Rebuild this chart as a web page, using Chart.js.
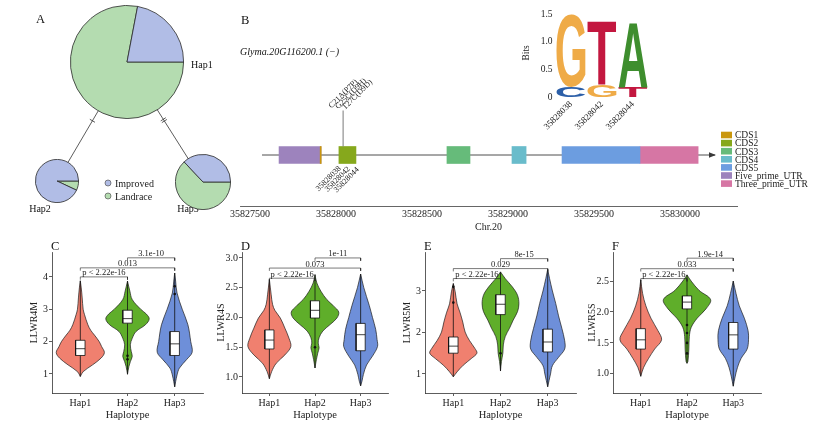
<!DOCTYPE html>
<html>
<head>
<meta charset="utf-8">
<title>Glyma.20G116200 haplotypes</title>
<script src="https://cdn.jsdelivr.net/npm/chart.js@4.4.1/dist/chart.umd.min.js"></script>
<style>
  html, body { margin: 0; padding: 0; background: #fff; }
  body { width: 835px; height: 426px; position: relative; overflow: hidden; }
  canvas { position: absolute; }
</style>
</head>
<body>
<canvas id="panelA" width="235" height="225" style="left:0px;top:0px"></canvas>
<canvas id="gene" width="635" height="235" style="left:200px;top:0px"></canvas>
<canvas id="logo" width="160" height="140" style="left:505px;top:0px"></canvas>
<canvas id="violinC" width="182" height="190" style="left:25px;top:235px"></canvas>
<canvas id="violinD" width="180" height="190" style="left:212px;top:235px"></canvas>
<canvas id="violinE" width="182" height="190" style="left:398px;top:235px"></canvas>
<canvas id="violinF" width="182" height="190" style="left:583px;top:235px"></canvas>
<script>
// ---------- data ----------
// A: haplotype network, share of improved / landrace accessions
const pieGroups = ['Improved', 'Landrace'];
const hap1Share = [22, 78];
const hap2Share = [93, 7];
const hap3Share = [37, 63];

// B: gene model
const featureNames = ['CDS1', 'CDS2', 'CDS3', 'CDS4', 'CDS5', 'Five_prime_UTR', 'Three_prime_UTR'];
const featureStart = [35827908, 35828017, 35828645, 35829023, 35829314, 35827669, 35829767];
const featureEnd   = [35827914, 35828116, 35828779, 35829105, 35829767, 35827913, 35830105];
const geneSpan = [35827570, 35830203];
const chrTicks = [35827500, 35828000, 35828500, 35829000, 35829500, 35830000];
const snpPos = [35828038, 35828042, 35828044];
const snpChanges = ['C21A(P7P)', 'G25C(D9H)', 'T27C(D9D)'];

// B: sequence logo
const logoPositions = ['35828038', '35828042', '35828044'];
const logoLowerLetters = ['C', 'G', 'T'];
const logoLowerBits = [0.18, 0.21, 0.19];
const logoUpperLetters = ['G', 'T', 'A'];
const logoUpperBits = [1.32, 1.15, 1.17];

// C-F: violins, profile rows are [value, half width]
const haplotypes = ['Hap1', 'Hap2', 'Hap3'];
const bracketPairs = [[1, 2], [1, 3], [2, 3]];

const llwr4mViolin = [
  [[0.92,0],[1.07,0.06],[1.28,0.26],[1.49,0.44],[1.66,0.51],[1.85,0.45],[2.0,0.4],[2.2,0.3],[2.35,0.22],[2.52,0.16],[2.83,0.09],[3.0,0.06],[3.35,0.04],[3.66,0.02],[3.88,0]],
  [[0.99,0],[1.23,0.03],[1.38,0.06],[1.54,0.1],[1.69,0.08],[1.9,0.06],[2.1,0.1],[2.31,0.18],[2.52,0.38],[2.7,0.46],[2.85,0.4],[3.0,0.28],[3.3,0.1],[3.56,0.05],[3.87,0]],
  [[0.6,0],[0.76,0.02],[0.97,0.05],[1.18,0.1],[1.44,0.25],[1.67,0.37],[2.0,0.34],[2.52,0.28],[3.0,0.16],[3.5,0.05],[3.87,0.02],[4.12,0]]
];
const llwr4mBox = [[0.92,1.57,1.78,2.04,3.88],[0.99,2.57,2.71,2.97,3.87],[0.6,1.57,1.93,2.31,4.12]];
const llwr4mOutliers = [[2,1.56],[2,1.45],[3,3.71],[3,3.47]];
const llwr4mP = ['p < 2.22e-16', '0.013', '3.1e-10'];
const llwr4mPHeight = [4.0, 4.28, 4.59];
const llwr4mTicks = [1, 2, 3, 4];

const llwr4sViolin = [
  [[0.97,0],[1.09,0.05],[1.23,0.15],[1.37,0.34],[1.51,0.47],[1.65,0.43],[1.82,0.34],[1.99,0.24],[2.12,0.12],[2.22,0.07],[2.38,0.04],[2.64,0]],
  [[1.15,0],[1.29,0.03],[1.4,0.06],[1.49,0.09],[1.57,0.07],[1.66,0.09],[1.77,0.17],[1.88,0.33],[1.99,0.48],[2.09,0.52],[2.19,0.41],[2.3,0.26],[2.44,0.13],[2.58,0.04],[2.72,0]],
  [[0.85,0],[0.93,0.03],[1.04,0.06],[1.2,0.13],[1.35,0.26],[1.51,0.37],[1.63,0.36],[1.8,0.33],[2.0,0.26],[2.2,0.19],[2.5,0.07],[2.73,0]]
];
const llwr4sBox = [[0.97,1.47,1.62,1.79,2.64],[1.15,1.99,2.12,2.28,2.72],[0.85,1.44,1.71,1.9,2.73]];
const llwr4sOutliers = [[2,1.5]];
const llwr4sP = ['p < 2.22e-16', '0.073', '1e-11'];
const llwr4sPHeight = [2.66, 2.83, 3.0];
const llwr4sTicks = [1.0, 1.5, 2.0, 2.5, 3.0];

const llwr5mViolin = [
  [[0.93,0],[1.05,0.08],[1.21,0.21],[1.37,0.38],[1.5,0.5],[1.61,0.46],[1.81,0.34],[2.01,0.25],[2.25,0.2],[2.49,0.14],[2.69,0.08],[2.98,0.04],[3.18,0]],
  [[1.07,0],[1.3,0.02],[1.5,0.05],[1.7,0.06],[1.9,0.1],[2.1,0.19],[2.3,0.27],[2.5,0.36],[2.69,0.39],[2.9,0.36],[3.1,0.25],[3.3,0.1],[3.46,0]],
  [[0.69,0],[1.0,0.06],[1.2,0.1],[1.4,0.23],[1.6,0.36],[1.8,0.36],[2.1,0.3],[2.4,0.23],[2.7,0.17],[3.0,0.1],[3.3,0.04],[3.52,0]]
];
const llwr5mBox = [[0.93,1.5,1.67,1.89,3.18],[1.07,2.43,2.68,2.91,3.46],[0.69,1.53,1.77,2.08,3.52]];
const llwr5mOutliers = [[1,3.1],[1,2.72],[2,1.5]];
const llwr5mP = ['p < 2.22e-16', '0.029', '8e-15'];
const llwr5mPHeight = [3.3, 3.54, 3.78];
const llwr5mTicks = [1, 2, 3];

const llwr5sViolin = [
  [[0.96,0],[1.1,0.06],[1.25,0.17],[1.4,0.3],[1.55,0.45],[1.7,0.37],[1.9,0.22],[2.1,0.11],[2.3,0.04],[2.52,0]],
  [[1.17,0],[1.2,0.02],[1.4,0.04],[1.6,0.05],[1.75,0.09],[1.9,0.22],[2.05,0.41],[2.2,0.51],[2.35,0.26],[2.5,0.09],[2.6,0]],
  [[0.8,0],[0.95,0.04],[1.1,0.09],[1.25,0.17],[1.4,0.3],[1.55,0.33],[1.7,0.32],[1.9,0.24],[2.1,0.13],[2.3,0.06],[2.5,0]]
];
const llwr5sBox = [[0.96,1.4,1.55,1.73,2.52],[1.17,2.05,2.16,2.26,2.6],[0.8,1.4,1.63,1.83,2.5]];
const llwr5sOutliers = [[2,1.79],[2,1.66],[2,1.5],[2,1.33]];
const llwr5sP = ['p < 2.22e-16', '0.033', '1.9e-14'];
const llwr5sPHeight = [2.54, 2.7, 2.87];
const llwr5sTicks = [1.0, 1.5, 2.0, 2.5];

// ---------- styles ----------
const serif = '"Liberation Serif", "Times New Roman", serif';
const pieColors = ['#b1bde6', '#b4dcb0'];
const featureColors = ['#c9960c', '#86a81c', '#66bb7a', '#69bccb', '#6c9de0', '#9d83bd', '#d676a4'];
const letterColors = { A: '#3e8e2e', C: '#2c5fa8', G: '#efab47', T: '#c3173f' };
const hapColors = ['#f0806f', '#5fae2a', '#6e8fd9'];
const pieLayout = [
  { cx: 127, cy: 62, r: 56 },
  { cx: 57, cy: 181, r: 21 },
  { cx: 203, cy: 182, r: 27 }
];

Chart.defaults.font.family = serif;
Chart.defaults.color = '#222';
Chart.defaults.animation = false;
Chart.defaults.events = [];
Chart.defaults.plugins.legend.display = false;
Chart.defaults.plugins.tooltip.enabled = false;

function seg(ctx, x0, y0, x1, y1) {
  ctx.beginPath(); ctx.moveTo(x0, y0); ctx.lineTo(x1, y1); ctx.stroke();
}

// ---------- A: network ----------
const networkDecor = {
  id: 'networkDecor',
  afterDraw(chart) {
    const ctx = chart.ctx;
    ctx.save();
    ctx.strokeStyle = '#333';
    ctx.lineWidth = 0.8;
    [[0, 1, 1], [0, 2, 2]].forEach(([a, b, marks]) => {
      const p = pieLayout[a], q = pieLayout[b];
      const dx = q.cx - p.cx, dy = q.cy - p.cy, len = Math.hypot(dx, dy);
      const ux = dx / len, uy = dy / len;
      const sx = p.cx + ux * p.r, sy = p.cy + uy * p.r;
      const ex = q.cx - ux * q.r, ey = q.cy - uy * q.r;
      seg(ctx, sx, sy, ex, ey);
      for (let k = 0; k < marks; k++) {
        const t = 0.2 + k * 0.035;
        const mx = sx + (ex - sx) * t, my = sy + (ey - sy) * t;
        seg(ctx, mx - uy * 3, my + ux * 3, mx + uy * 3, my - ux * 3);
      }
    });
    ctx.fillStyle = '#111';
    ctx.textBaseline = 'alphabetic';
    ctx.font = '12.5px ' + serif;
    ctx.fillText('A', 36, 22.5);
    ctx.font = '10px ' + serif;
    ctx.textAlign = 'left';
    ctx.fillText(haplotypes[0], 191, 68);
    ctx.textAlign = 'center';
    ctx.fillText(haplotypes[1], 40, 212);
    ctx.fillText(haplotypes[2], 188, 212);
    ctx.textAlign = 'left';
    pieGroups.forEach((g, i) => {
      const y = 183 + i * 13;
      ctx.beginPath();
      ctx.arc(108, y, 3, 0, Math.PI * 2);
      ctx.fillStyle = pieColors[i];
      ctx.fill();
      ctx.strokeStyle = '#555';
      ctx.lineWidth = 0.7;
      ctx.stroke();
      ctx.fillStyle = '#222';
      ctx.fillText(g, 115, y + 3.5);
    });
    ctx.restore();
  }
};

new Chart(document.getElementById('panelA'), {
  type: 'scatter',
  data: { datasets: [] },
  options: {
    responsive: false,
    scales: { x: { display: false }, y: { display: false } }
  },
  plugins: [networkDecor]
});

[hap1Share, hap2Share, hap3Share].forEach((share, i) => {
  const L = pieLayout[i];
  const cv = document.createElement('canvas');
  cv.width = cv.height = 2 * L.r + 2;
  cv.style.left = (L.cx - L.r - 1) + 'px';
  cv.style.top = (L.cy - L.r - 1) + 'px';
  document.body.insertBefore(cv, document.getElementById('gene'));
  new Chart(cv, {
    type: 'pie',
    data: {
      labels: [pieGroups[1], pieGroups[0]],
      datasets: [{
        data: [share[1], share[0]],
        backgroundColor: [pieColors[1], pieColors[0]],
        borderColor: '#2a2a2a',
        borderWidth: 0.8
      }]
    },
    options: { responsive: false, rotation: 90 }
  });
});

// ---------- B: gene model ----------
const geneDecor = {
  id: 'geneDecor',
  beforeDatasetsDraw(chart) {
    const { ctx, scales: { x, y } } = chart;
    const yc = y.getPixelForValue(0);
    const x0 = x.getPixelForValue(geneSpan[0]), x1 = x.getPixelForValue(geneSpan[1]);
    ctx.save();
    ctx.strokeStyle = '#3a3a3a';
    ctx.lineWidth = 0.9;
    seg(ctx, x0, yc, x1, yc);
    ctx.fillStyle = '#3a3a3a';
    ctx.beginPath();
    ctx.moveTo(x1 + 1, yc); ctx.lineTo(x1 - 6, yc - 2.8); ctx.lineTo(x1 - 6, yc + 2.8);
    ctx.closePath(); ctx.fill();
    ctx.restore();
  },
  afterDraw(chart) {
    const { ctx, scales: { x, y } } = chart;
    const yc = y.getPixelForValue(0);
    const sx = x.getPixelForValue(snpPos.reduce((a, b) => a + b, 0) / snpPos.length);
    const barTop = yc - 8.5, barBottom = yc + 8.5, stickTop = barTop - 36;
    ctx.save();
    ctx.strokeStyle = '#7a7a7a';
    ctx.lineWidth = 1;
    seg(ctx, sx, barTop, sx, stickTop);
    ctx.fillStyle = '#222';
    ctx.font = '8px ' + serif;
    snpChanges.forEach((t, i) => {
      ctx.save();
      ctx.translate(sx - 11.5 + i * 6.7, stickTop - 2 + i * 0.8);
      ctx.rotate(-Math.PI / 4);
      ctx.textAlign = 'left';
      ctx.textBaseline = 'alphabetic';
      ctx.fillText(t, 0, 0);
      ctx.restore();
    });
    snpPos.forEach((p, i) => {
      ctx.save();
      ctx.translate(sx - 6 + i * 9, barBottom + 1 + i * 0.6);
      ctx.rotate(-Math.PI / 4);
      ctx.textAlign = 'right';
      ctx.textBaseline = 'top';
      ctx.fillText(String(p), 0, 0);
      ctx.restore();
    });
    ctx.fillStyle = '#111';
    ctx.textAlign = 'left';
    ctx.textBaseline = 'alphabetic';
    ctx.font = '12.5px ' + serif;
    ctx.fillText('B', 41, 23.5);
    ctx.font = 'italic 10px ' + serif;
    ctx.fillText('Glyma.20G116200.1 (\u2212)', 40, 55);
    // feature legend
    ctx.font = '9.5px ' + serif;
    featureNames.forEach((n, i) => {
      const ry = 135 + i * 8.1;
      ctx.fillStyle = featureColors[i];
      ctx.fillRect(521, ry - 3.3, 11, 6.6);
      ctx.fillStyle = '#222';
      ctx.fillText(n, 535, ry + 3.3);
    });
    ctx.restore();
  }
};

new Chart(document.getElementById('gene'), {
  type: 'bar',
  data: {
    labels: ['gene'],
    datasets: featureNames.map((n, i) => ({
      label: n,
      data: [[featureStart[i], featureEnd[i]]],
      backgroundColor: featureColors[i],
      borderWidth: 0,
      barThickness: 17,
      grouped: false
    }))
  },
  options: {
    indexAxis: 'y',
    responsive: false,
    layout: { padding: { left: 40, right: 98, top: 104, bottom: 0 } },
    scales: {
      x: {
        type: 'linear', min: 35827442, max: 35830331,
        afterBuildTicks: s => { s.ticks = chrTicks.map(v => ({ value: v })); },
        afterFit: s => { s.height = 29; },
        ticks: { callback: v => String(v), font: { size: 10 }, color: '#222', padding: 2, maxRotation: 0, autoSkip: false },
        grid: { display: false, drawTicks: false },
        border: { display: true, color: '#555', width: 0.9 },
        title: { display: true, text: 'Chr.20', font: { size: 10 }, color: '#222', padding: { top: 0, bottom: 2 } }
      },
      y: { display: false }
    }
  },
  plugins: [geneDecor]
});

// ---------- B: sequence logo ----------
function drawGlyph(ctx, ch, left, top, w, h) {
  if (h <= 0 || w <= 0) return;
  ctx.save();
  ctx.font = 'bold 100px "Liberation Sans", Arial, sans-serif';
  ctx.textAlign = 'left';
  ctx.textBaseline = 'alphabetic';
  const m = ctx.measureText(ch);
  const gw = m.actualBoundingBoxLeft + m.actualBoundingBoxRight;
  const gh = m.actualBoundingBoxAscent + m.actualBoundingBoxDescent;
  ctx.translate(left, top);
  ctx.scale(w / gw, h / gh);
  ctx.fillStyle = letterColors[ch];
  ctx.fillText(ch, m.actualBoundingBoxLeft, m.actualBoundingBoxAscent);
  ctx.restore();
}

const logoLetters = {
  id: 'logoLetters',
  afterDatasetsDraw(chart) {
    const ctx = chart.ctx;
    chart.data.datasets.forEach((ds, d) => {
      chart.getDatasetMeta(d).data.forEach((bar, i) => {
        const { x, y, base, width } = bar.getProps(['x', 'y', 'base', 'width'], true);
        drawGlyph(ctx, ds.letters[i], x - width / 2 + 1, Math.min(y, base), width - 2, Math.abs(base - y));
      });
    });
  }
};

new Chart(document.getElementById('logo'), {
  type: 'bar',
  data: {
    labels: logoPositions,
    datasets: [
      { data: logoLowerBits, letters: logoLowerLetters, backgroundColor: 'rgba(0,0,0,0)', borderWidth: 0 },
      { data: logoUpperBits, letters: logoUpperLetters, backgroundColor: 'rgba(0,0,0,0)', borderWidth: 0 }
    ]
  },
  options: {
    responsive: false,
    layout: { padding: { left: 0, right: 16.5, top: 6.3, bottom: 0 } },
    datasets: { bar: { barPercentage: 1, categoryPercentage: 1 } },
    scales: {
      x: {
        stacked: true,
        afterFit: s => { s.height = 43; },
        ticks: { font: { size: 9 }, color: '#222', minRotation: 45, maxRotation: 45, padding: 2, autoSkip: false },
        grid: { display: false, drawTicks: false },
        border: { display: false }
      },
      y: {
        stacked: true, min: 0, max: 1.6,
        afterBuildTicks: s => { s.ticks = [0, 0.5, 1, 1.5].map(v => ({ value: v })); },
        afterFit: s => { s.width = 50.5; },
        ticks: { callback: v => (v === 0 ? '0' : v.toFixed(1)), font: { size: 9.5 }, color: '#222', padding: 3 },
        grid: { display: false, drawTicks: false },
        border: { display: false },
        title: { display: true, text: 'Bits', font: { size: 9.5 }, color: '#222', padding: { top: 16, bottom: 0 } }
      }
    }
  },
  plugins: [logoLetters]
});

// ---------- C-F: violins ----------
function buildViolin(canvasId, cfg) {
  const bw = 0.1;
  const datasets = [];
  haplotypes.forEach((h, i) => {
    const c = i + 1;
    const prof = cfg.violin[i];
    const right = prof.map(([v, w]) => ({ x: c + w, y: v }));
    const left = prof.slice().reverse().map(([v, w]) => ({ x: c - w, y: v }));
    datasets.push({ data: right.concat(left), backgroundColor: hapColors[i], borderColor: '#1c1c1c', borderWidth: 0.7, fill: 'shape', tension: 0.35, pointRadius: 0, order: 6 });
    const [lo, q1, med, q3, hi] = cfg.box[i];
    datasets.push({ data: [{ x: c, y: lo }, { x: c, y: hi }], borderColor: '#111', borderWidth: 0.8, pointRadius: 0, fill: false, order: 5 });
    datasets.push({
      data: [{ x: c - bw, y: q1 }, { x: c + bw, y: q1 }, { x: c + bw, y: q3 }, { x: c - bw, y: q3 }, { x: c - bw, y: q1 }],
      backgroundColor: '#fff', borderColor: '#111', borderWidth: 0.8, fill: 'shape', tension: 0, pointRadius: 0, order: 4
    });
    datasets.push({ data: [{ x: c - bw, y: med }, { x: c + bw, y: med }], borderColor: '#111', borderWidth: 0.8, pointRadius: 0, fill: false, order: 3 });
  });
  datasets.push({
    data: cfg.outliers.map(([h, v]) => ({ x: h, y: v })),
    showLine: false, pointRadius: 1.3, pointBackgroundColor: '#111', pointBorderWidth: 0, fill: false, order: 2
  });
  const tip = (cfg.yMax - cfg.yMin) * 0.02;
  bracketPairs.forEach(([a, b], k) => {
    const hgt = cfg.pHeight[k];
    datasets.push({
      data: [{ x: a, y: hgt - tip }, { x: a, y: hgt }, { x: b, y: hgt }, { x: b, y: hgt - tip }],
      borderColor: '#222', borderWidth: 0.6, pointRadius: 0, tension: 0, fill: false, order: 1
    });
  });

  const violinText = {
    id: 'violinText',
    afterDraw(chart) {
      const { ctx, chartArea, scales: { x, y } } = chart;
      ctx.save();
      ctx.fillStyle = '#111';
      ctx.textBaseline = 'alphabetic';
      ctx.textAlign = 'left';
      ctx.font = '12.5px ' + serif;
      ctx.fillText(cfg.letter, chartArea.left - 1, 14.5);
      ctx.font = '8.5px ' + serif;
      ctx.textAlign = 'center';
      ctx.fillStyle = '#222';
      bracketPairs.forEach(([a, b], k) => {
        const mx = (x.getPixelForValue(a) + x.getPixelForValue(b)) / 2;
        ctx.fillText(cfg.pLabels[k], mx, y.getPixelForValue(cfg.pHeight[k]) - 1.5);
      });
      ctx.restore();
    }
  };

  const axisGrid = { display: true, drawOnChartArea: false, drawTicks: true, tickLength: 3, color: '#333', lineWidth: 0.8 };
  const axisBorder = { display: true, color: '#333', width: 0.8 };

  new Chart(document.getElementById(canvasId), {
    type: 'line',
    data: { datasets },
    options: {
      responsive: false,
      layout: { padding: { top: 17, right: 3, left: 0, bottom: 0 } },
      scales: {
        x: {
          type: 'linear', min: 0.4, max: 3.6,
          afterBuildTicks: s => { s.ticks = [1, 2, 3].map(v => ({ value: v })); },
          afterFit: s => { s.height = 32; },
          ticks: { callback: v => haplotypes[v - 1], font: { size: 10 }, color: '#222', padding: 1, maxRotation: 0, autoSkip: false },
          grid: axisGrid,
          border: axisBorder,
          title: { display: true, text: 'Haplotype', font: { size: 10.5 }, color: '#222', padding: { top: 0, bottom: 3 } }
        },
        y: {
          type: 'linear', min: cfg.yMin, max: cfg.yMax,
          afterBuildTicks: s => { s.ticks = cfg.ticks.map(v => ({ value: v })); },
          afterFit: s => { s.width = cfg.yWidth; },
          ticks: { callback: cfg.tickFormat, font: { size: 10 }, color: '#222', padding: 1 },
          grid: axisGrid,
          border: axisBorder,
          title: { display: true, text: cfg.trait, font: { size: 10 }, color: '#222', padding: { top: 3, bottom: 0 } }
        }
      }
    },
    plugins: [violinText]
  });
}

const wholeTick = v => String(v);
const halfTick = v => v.toFixed(1);

buildViolin('violinC', { letter: 'C', trait: 'LLWR4M', violin: llwr4mViolin, box: llwr4mBox, outliers: llwr4mOutliers,
  pLabels: llwr4mP, pHeight: llwr4mPHeight, ticks: llwr4mTicks, tickFormat: wholeTick, yMin: 0.41, yMax: 4.77, yWidth: 27 });
buildViolin('violinD', { letter: 'D', trait: 'LLWR4S', violin: llwr4sViolin, box: llwr4sBox, outliers: llwr4sOutliers,
  pLabels: llwr4sP, pHeight: llwr4sPHeight, ticks: llwr4sTicks, tickFormat: halfTick, yMin: 0.73, yMax: 3.10, yWidth: 30 });
buildViolin('violinE', { letter: 'E', trait: 'LLWR5M', violin: llwr5mViolin, box: llwr5mBox, outliers: llwr5mOutliers,
  pLabels: llwr5mP, pHeight: llwr5mPHeight, ticks: llwr5mTicks, tickFormat: wholeTick, yMin: 0.54, yMax: 3.94, yWidth: 27 });
buildViolin('violinF', { letter: 'F', trait: 'LLWR5S', violin: llwr5sViolin, box: llwr5sBox, outliers: llwr5sOutliers,
  pLabels: llwr5sP, pHeight: llwr5sPHeight, ticks: llwr5sTicks, tickFormat: halfTick, yMin: 0.69, yMax: 2.97, yWidth: 30 });
</script>
</body>
</html>
